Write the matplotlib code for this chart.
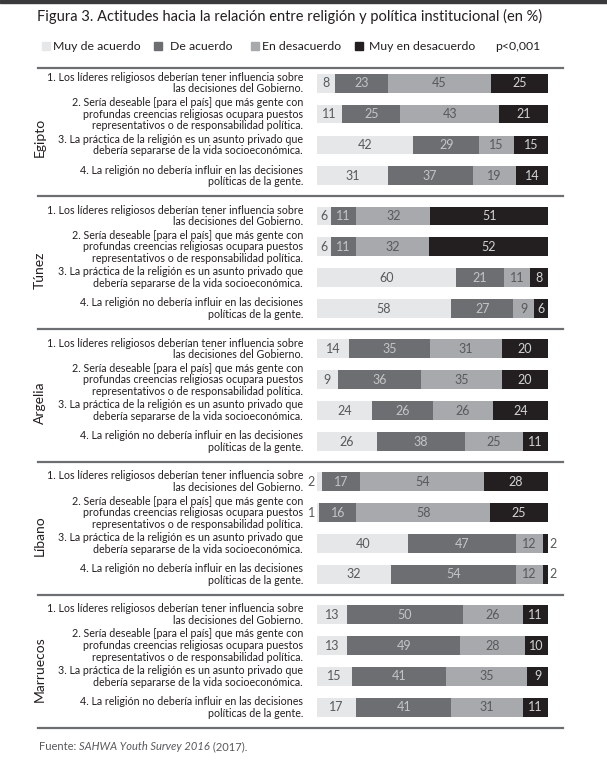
import numpy as np
import matplotlib
matplotlib.use("Agg")
import matplotlib.pyplot as plt
from matplotlib.patches import Rectangle

# data
countries = ["Egipto", "Túnez", "Argelia", "Líbano", "Marruecos"]
questions = [
    "1. Los líderes religiosos deberían tener influencia sobre\nlas decisiones del Gobierno.",
    "2. Sería deseable [para el país] que más gente con\nprofundas creencias religiosas ocupara puestos\nrepresentativos o de responsabilidad política.",
    "3. La práctica de la religión es un asunto privado que\ndebería separarse de la vida socioeconómica.",
    "4. La religión no debería influir en las decisiones\npolíticas de la gente.",
]
categories = ["Muy de acuerdo", "De acuerdo", "En desacuerdo", "Muy en desacuerdo"]

# one value per row: Egipto q1..q4, Túnez q1..q4, ...
muy_de_acuerdo = [8, 11, 42, 31, 6, 6, 60, 58, 14, 9, 24, 26, 2, 1, 40, 32, 13, 13, 15, 17]
de_acuerdo = [23, 25, 29, 37, 11, 11, 21, 27, 35, 36, 26, 38, 17, 16, 47, 54, 50, 49, 41, 41]
en_desacuerdo = [45, 43, 15, 19, 32, 32, 11, 9, 31, 35, 26, 25, 54, 58, 12, 12, 26, 28, 35, 31]
muy_en_desacuerdo = [25, 21, 15, 14, 51, 52, 8, 6, 20, 20, 24, 11, 28, 25, 2, 2, 11, 10, 9, 11]

colors = ["#e6e7e8", "#6d6e71", "#a7a9ac", "#231f20"]
txt_colors = ["#58595b", "#c4c5c7", "#58595b", "#d1d3d4"]

FONT = ["Lato", "DejaVu Sans"]

W, H = 607, 768
fig = plt.figure(figsize=(W / 100, H / 100), dpi=100)

# dark strip at the very top
fig.patches.append(Rectangle((0, 1 - 3 / H), 1, 3 / H, transform=fig.transFigure,
                             color="#3a3a3c", zorder=0))

# axes geometry in pixels
x0_px, x1_px = 317, 548        # where 0 % and 100 % land
left_px, right_px = 38, 563    # separator lines
top_px, bot_px = 68, 728
ppu = (x1_px - x0_px) / 100.0
xmin = (left_px - x0_px) / ppu
xmax = 100 + (right_px - x1_px) / ppu

ax = fig.add_axes([left_px / W, 1 - bot_px / H, (right_px - left_px) / W, (bot_px - top_px) / H])
gstep = 4.3
ax.set_xlim(xmin, xmax)
ax.set_ylim(4 * gstep + 3.67, -0.49)
ax.axis("off")

vals = np.array([muy_de_acuerdo, de_acuerdo, en_desacuerdo, muy_en_desacuerdo], dtype=float)
totals = vals.sum(axis=0)
widths = vals / totals * 100
n_rows = vals.shape[1]
ypos = np.array([(r // 4) * gstep + (r % 4) for r in range(n_rows)])

lefts = np.zeros(n_rows)
for k in range(4):
    ax.barh(ypos, widths[k], left=lefts, height=0.61, color=colors[k],
            label=categories[k], linewidth=0)
    for r in range(n_rows):
        v = int(vals[k, r])
        w = widths[k, r]
        if w < 3:
            # too thin: put the number beside the bar
            if k == 0:
                ax.text(lefts[r] - 0.8, ypos[r], str(v), ha="right", va="center",
                        fontsize=9, color="#58595b", family=FONT)
            else:
                ax.text(lefts[r] + w + 0.8, ypos[r], str(v), ha="left", va="center",
                        fontsize=9, color="#58595b", family=FONT)
        else:
            ax.text(lefts[r] + w / 2, ypos[r], str(v), ha="center", va="center",
                    fontsize=9, color=txt_colors[k], family=FONT)
    lefts += widths[k]

# question labels
qx = (303 - x0_px) / ppu
for r in range(n_rows):
    ax.text(qx, ypos[r], questions[r % 4], ha="right", va="center", multialignment="right",
            fontsize=7.65, color="#231f20", family=FONT, linespacing=1.07)

# country labels and separators
cx = (40 - x0_px) / ppu
for g, c in enumerate(countries):
    ax.text(cx, g * gstep + 1.75, c, rotation=90, ha="center", va="center",
            fontsize=10, color="#231f20", family=FONT)
seps = [-0.49] + [g * gstep + 3.65 for g in range(4)] + [4 * gstep + 3.67]
for y in seps:
    ax.axhline(y, color="#6d6e71", lw=1.6, clip_on=False)

# title
fig.text(37 / W, 1 - 16 / H,
         "Figura 3. Actitudes hacia la relación entre religión y política institucional (en %)",
         ha="left", va="center", fontsize=10.5, color="#231f20", family=FONT)

# legend
sq_x = [42, 154, 251, 355]
tx_x = [53, 170, 262, 369]
ly = 46
for k in range(4):
    fig.patches.append(Rectangle((sq_x[k] / W, 1 - (ly + 4) / H), 8 / W, 8 / H,
                                 transform=fig.transFigure, color=colors[k]))
    fig.text(tx_x[k] / W, 1 - ly / H, categories[k], ha="left", va="center",
             fontsize=8.8, color="#231f20", family=FONT)
fig.text(495 / W, 1 - ly / H, "p<0,001", ha="left", va="center", fontsize=8.8,
         color="#231f20", family=FONT)

# source
sy = 1 - 747 / H
src = fig.text(39 / W, sy, "Fuente: ", ha="left", va="center", fontsize=8,
               color="#58595b", family=FONT)
fig.canvas.draw()
r = fig.canvas.get_renderer()
bb = src.get_window_extent(r)
src2 = fig.text(bb.x1 / W, sy, "SAHWA Youth Survey 2016", ha="left", va="center",
                fontsize=8, color="#58595b", family=FONT, style="italic")
bb2 = src2.get_window_extent(r)
fig.text(bb2.x1 / W, sy, " (2017).", ha="left", va="center", fontsize=8,
         color="#58595b", family=FONT)

fig.savefig("out.png", dpi=100, facecolor="white")
